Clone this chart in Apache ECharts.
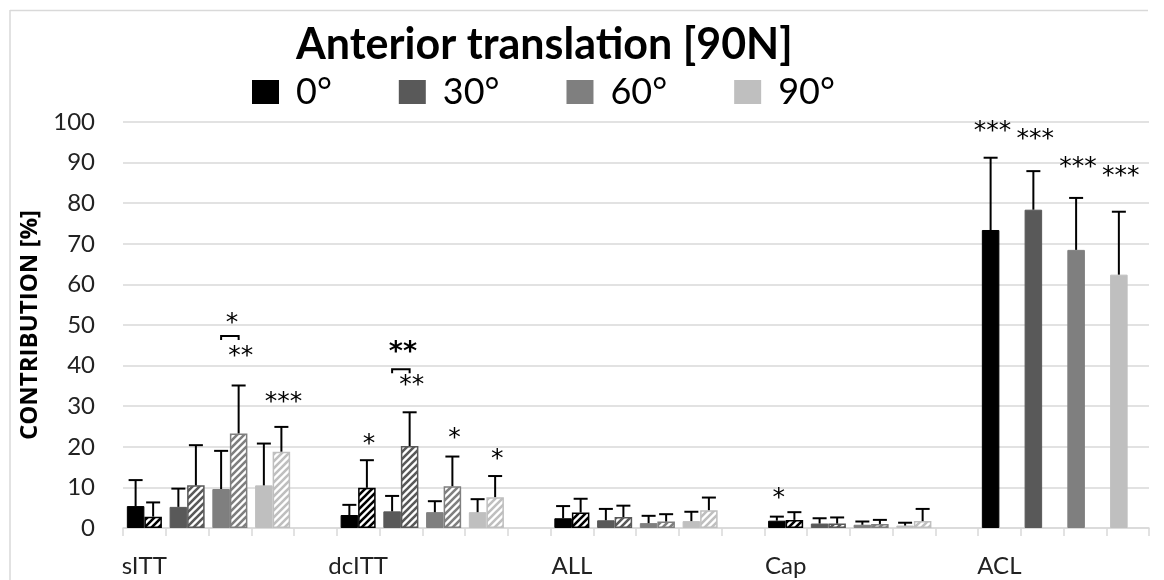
<!DOCTYPE html>
<html>
<head>
<meta charset="utf-8">
<script src="https://cdn.jsdelivr.net/npm/echarts@6/dist/echarts.min.js"></script>
<style>html,body{margin:0;padding:0;background:#fff}#c{width:1164px;height:580px}</style>
</head>
<body>
<div id="c"></div>
<script>
// ---------------- DATA ----------------
const structures = ['sITT', 'dcITT', 'ALL', 'Cap', 'ACL'];
const angles = ['0°', '30°', '60°', '90°'];
const yTicks = [0, 10, 20, 30, 40, 50, 60, 70, 80, 90, 100];

// solid bars: mean and SD, 4 angles per structure (order as structures)
const solidMean = [5.4, 5.2, 9.6, 10.5,   3.2, 4.1, 3.9, 3.9,   2.4, 1.9, 1.2, 1.7,   1.8, 1.1, 0.8, 0.6,   73.4, 78.4, 68.5, 62.4];
const solidSD   = [6.4, 4.5, 9.4, 10.3,   2.5, 3.8, 2.7, 3.2,   3.0, 2.8, 1.8, 2.3,   1.0, 1.3, 0.8, 0.7,   17.8, 9.5, 12.8, 15.5];
// hatched bars: mean and SD (ACL has none)
const hatchMean = [2.8, 10.5, 23.3, 18.8,  9.9, 20.2, 10.3, 7.6,  3.8, 2.7, 1.6, 4.4,   2.0, 1.1, 1.0, 1.7,   null, null, null, null];
const hatchSD   = [3.5, 9.9, 11.8, 6.1,    6.8, 8.3, 7.3, 5.2,    3.4, 2.8, 1.8, 3.1,   1.9, 1.5, 1.0, 3.0,   null, null, null, null];

// significance marks: structure, angle, which bar (-1 solid, 0 pair middle, 1 hatched), height, text
const sigStructure = ['sITT', 'sITT', 'sITT', 'dcITT', 'dcITT', 'dcITT', 'dcITT', 'dcITT', 'Cap', 'ACL', 'ACL', 'ACL', 'ACL'];
const sigAngle     = ['60°', '60°', '90°', '0°', '30°', '30°', '60°', '90°', '0°', '0°', '30°', '60°', '90°'];
const sigBar       = [0, 1, 1, 1, 0, 1, 1, 1, -1, -1, -1, -1, -1];
const sigHeight    = [51.7, 43.4, 32.1, 21.7, 44.3, 36.3, 23.3, 18.0, 8.5, 98.8, 96.8, 90.1, 87.7];
const sigText      = ['*', '**', '***', '*', '**', '**', '*', '*', '*', '***', '***', '***', '***'];
const sigStrong    = [false, false, false, false, true, false, false, false, false, false, false, false, false];
// brackets linking solid and hatched bars
const bracketStructure = ['sITT', 'dcITT'];
const bracketAngle     = ['60°', '30°'];
const bracketHeight    = [47.3, 39.1];

// ---------------- STYLE ----------------
const angleColors = ['#000000', '#595959', '#7f7f7f', '#bfbfbf'];
const GAP = 0.18;
const FONT = 'Lato';

function hatch(color) {
  const n = 7;
  const c = document.createElement('canvas');
  c.width = n; c.height = n;
  const g = c.getContext('2d');
  g.fillStyle = '#ffffff';
  g.fillRect(0, 0, n, n);
  g.strokeStyle = color;
  g.lineWidth = 2.6;
  g.beginPath();
  g.moveTo(-1, n + 1); g.lineTo(n + 1, -1);
  g.moveTo(-n / 2 - 1, n / 2 + 1); g.lineTo(n / 2 + 1, -n / 2 - 1);
  g.moveTo(n / 2 - 1, n * 1.5 + 1); g.lineTo(n * 1.5 + 1, n / 2 - 1);
  g.stroke();
  return { image: c, repeat: 'repeat' };
}

// ---------------- BUILD ----------------
const perStruct = angles.length + 1;
const nSlots = structures.length * perStruct - 1;
const slotOf = (s, a) => s * perStruct + a;
const categories = [];
for (let i = 0; i < nSlots; i++) {
  const s = Math.floor(i / perStruct), a = i % perStruct;
  categories.push(a < angles.length ? structures[s] + ' ' + angles[a] : 'gap' + i);
}
const solidData = new Array(nSlots).fill(null);
const hatchData = new Array(nSlots).fill(null);
const errData = [];
structures.forEach((st, s) => {
  angles.forEach((an, a) => {
    const k = s * angles.length + a;
    const slot = slotOf(s, a);
    const col = angleColors[a];
    solidData[slot] = { value: solidMean[k], itemStyle: { color: col, borderColor: col, borderWidth: 1 } };
    errData.push([slot, solidMean[k], solidMean[k] + solidSD[k], -1]);
    if (hatchMean[k] != null) {
      hatchData[slot] = { value: hatchMean[k], itemStyle: { color: hatch(col), borderColor: col, borderWidth: 1.5 } };
      errData.push([slot, hatchMean[k], hatchMean[k] + hatchSD[k], 1]);
    }
  });
});
const sigData = sigStructure.map((st, i) => [slotOf(structures.indexOf(st), angles.indexOf(sigAngle[i])), sigHeight[i], sigBar[i]]);
const bracketData = bracketStructure.map((st, i) => [slotOf(structures.indexOf(st), angles.indexOf(bracketAngle[i])), bracketHeight[i]]);

function barHalf(api) {
  return api.size([1, 0])[0] * (1 - GAP) / 2;
}

const chart = echarts.init(document.getElementById('c'));
chart.setOption({
  animation: false,
  backgroundColor: '#ffffff',
  title: {
    text: 'Anterior translation [90N]',
    left: 291, top: 19,
    textStyle: { fontFamily: FONT, fontWeight: 'bold', fontSize: 43, color: '#000' }
  },
  legend: {
    data: angles,
    left: 247, top: 69,
    icon: 'rect',
    itemWidth: 27, itemHeight: 24,
    itemGap: 67,
    textStyle: { fontFamily: FONT, fontSize: 36, color: '#000', padding: [0, 0, 0, 12] }
  },
  grid: { left: 123, right: 15, top: 122, bottom: 52, containLabel: false, outerBoundsMode: 'none' },
  xAxis: {
    type: 'category',
    data: categories,
    axisLine: { lineStyle: { color: '#d9d9d9', width: 1.5 } },
    axisTick: { show: true, interval: 0, length: 8, lineStyle: { color: '#d9d9d9', width: 1.5 } },
    axisLabel: {
      interval: 0,
      margin: 26,
      fontFamily: FONT, fontSize: 24, color: '#222',
      formatter: (v, idx) => (idx % perStruct === 0 ? structures[idx / perStruct] : '')
    },
    splitLine: { show: false }
  },
  yAxis: {
    type: 'value',
    min: yTicks[0], max: yTicks[yTicks.length - 1], interval: yTicks[1] - yTicks[0],
    name: 'CONTRIBUTION [%]',
    nameLocation: 'middle',
    nameGap: 72,
    nameTextStyle: { fontFamily: 'Open Sans', fontWeight: 'bold', fontSize: 24, color: '#000' },
    axisLine: { show: false },
    axisTick: { show: false },
    axisLabel: { margin: 28, fontFamily: FONT, fontSize: 24, color: '#222' },
    splitLine: { lineStyle: { color: '#d9d9d9', width: 1.5 } }
  },
  series: [
    { name: 'solid', type: 'bar', data: solidData, barGap: '0%', barCategoryGap: (GAP * 100) + '%', z: 2 },
    { name: 'hatched', type: 'bar', data: hatchData, barGap: '0%', barCategoryGap: (GAP * 100) + '%', z: 2 },
    {
      name: 'err', type: 'custom', z: 5, data: errData, encode: { x: 0, y: 2 },
      renderItem: (params, api) => {
        const slot = api.value(0);
        const b = api.coord([slot, api.value(1)]);
        const t = api.coord([slot, api.value(2)]);
        const x = b[0] + api.value(3) * barHalf(api) / 2;
        return {
          type: 'group', children: [
            { type: 'line', shape: { x1: x, y1: b[1], x2: x, y2: t[1] }, style: { stroke: '#000', lineWidth: 2 } },
            { type: 'line', shape: { x1: x - 7, y1: t[1], x2: x + 7, y2: t[1] }, style: { stroke: '#000', lineWidth: 2 } }
          ]
        };
      }
    },
    {
      name: 'sig', type: 'custom', z: 6, data: sigData, encode: { x: 0, y: 1 },
      renderItem: (params, api) => {
        const slot = api.value(0);
        const p = api.coord([slot, api.value(1)]);
        const x = p[0] + api.value(2) * barHalf(api) / 2 + 2;
        const strong = sigStrong[params.dataIndex];
        return {
          type: 'text', x: x, y: p[1] + 5,
          style: {
            text: sigText[params.dataIndex], fill: '#000',
            fontFamily: 'DejaVu Sans', fontSize: strong ? 27 : 25, fontWeight: strong ? 'bold' : 'normal',
            align: 'center', verticalAlign: 'middle'
          }
        };
      }
    },
    {
      name: 'bracket', type: 'custom', z: 6, data: bracketData, encode: { x: 0, y: 1 },
      renderItem: (params, api) => {
        const slot = api.value(0);
        const p = api.coord([slot, api.value(1)]);
        const h = barHalf(api) / 2;
        return {
          type: 'polyline',
          shape: { points: [[p[0] - h, p[1] + 4], [p[0] - h, p[1]], [p[0] + h, p[1]], [p[0] + h, p[1] + 4]] },
          style: { stroke: '#000', lineWidth: 2, fill: null }
        };
      }
    },
    ...angles.map((an, a) => ({ name: an, type: 'scatter', data: [], itemStyle: { color: angleColors[a], opacity: 1 } }))
  ],
  graphic: [
    { type: 'line', shape: { x1: 10, y1: 10.5, x2: 1148, y2: 10.5 }, style: { stroke: '#d9d9d9', lineWidth: 1.5 }, silent: true },
    { type: 'line', shape: { x1: 10, y1: 10, x2: 10, y2: 580 }, style: { stroke: '#d9d9d9', lineWidth: 1.5 }, silent: true }
  ]
});
</script>
</body>
</html>
